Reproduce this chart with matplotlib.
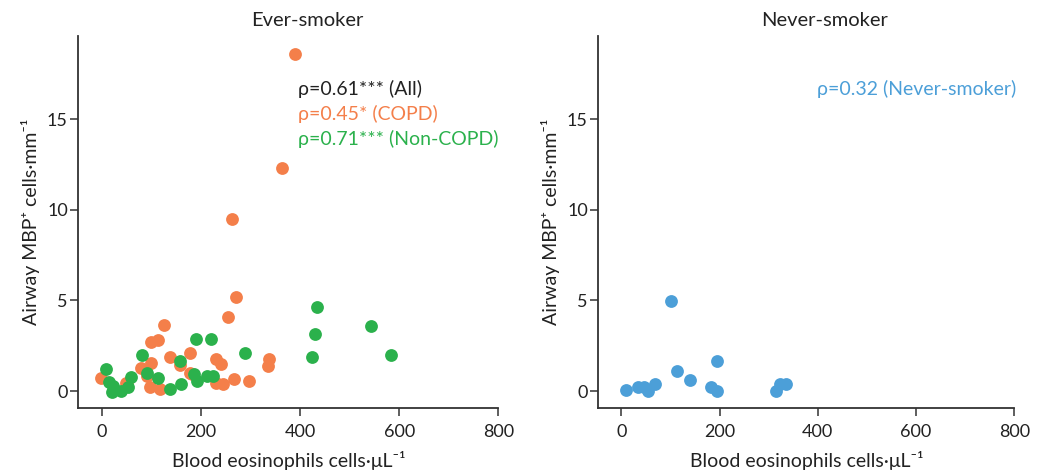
import matplotlib
matplotlib.use('Agg')
import matplotlib.pyplot as plt
import numpy as np

plt.rcParams['font.family'] = ['Lato', 'DejaVu Sans']
plt.rcParams['font.size'] = 12.5

# ever-smoker, COPD (orange)
copd_x = [390, 364, 262, 271, 254, 126, 99, 113, -1, 138, 79, 99, 91, 52, 97, 117,
          178, 158, 178, 230, 240, 338, 335, 267, 298, 230, 245, 50, 183]
copd_y = [18.6, 12.3, 9.5, 5.2, 4.07, 3.65, 2.71, 2.8, 0.74, 1.9, 1.29, 1.53, 0.83, 0.39, 0.24, 0.13,
          2.09, 1.44, 0.98, 1.75, 1.48, 1.77, 1.38, 0.66, 0.57, 0.46, 0.39, 0.46, 0.94]

# ever-smoker, non-COPD (green)
noncopd_x = [8, 81, 15, 23, 21, 39, 54, 60, 91, 113, 138, 161, 158, 191, 220, 290,
             186, 212, 225, 193, 435, 431, 425, 543, 583]
noncopd_y = [1.2, 2.0, 0.51, 0.28, -0.04, 0.0, 0.2, 0.79, 0.98, 0.74, 0.11, 0.39, 1.66, 2.9, 2.88, 2.09,
             0.94, 0.83, 0.83, 0.57, 4.63, 3.15, 1.9, 3.6, 1.99]

# never-smoker (blue)
never_x = [10, 33, 46, 55, 69, 100, 113, 139, 182, 195, 195, 314, 322, 336]
never_y = [0.06, 0.24, 0.24, 0.02, 0.39, 4.98, 1.11, 0.61, 0.24, 0.02, 1.66, 0.02, 0.39, 0.39]

c_orange = '#F47F4A'
c_green = '#2BB14C'
c_blue = '#4C9FD8'
c_axis = '#333333'

xticks = [0, 200, 400, 600, 800]
yticks = [0, 5, 10, 15]

fig = plt.figure(figsize=(10.48, 4.72), dpi=100)
ax1 = fig.add_axes([0.0747, 0.1362, 0.4008, 0.7875])
ax2 = fig.add_axes([0.5709, 0.1362, 0.397, 0.7875])

ax1.scatter(copd_x, copd_y, s=85, color=c_orange, linewidths=0, zorder=3)
ax1.scatter(noncopd_x, noncopd_y, s=85, color=c_green, linewidths=0, zorder=4)
ax2.scatter(never_x, never_y, s=85, color=c_blue, linewidths=0, zorder=3)

for ax, title in [(ax1, 'Ever-smoker'), (ax2, 'Never-smoker')]:
    ax.set_xlim(-47, 800)
    ax.set_ylim(-0.92, 19.6)
    ax.set_xticks(xticks)
    ax.set_yticks(yticks)
    for s in ['top', 'right']:
        ax.spines[s].set_visible(False)
    for s in ['left', 'bottom']:
        ax.spines[s].set_linewidth(1.3)
        ax.spines[s].set_color(c_axis)
    ax.tick_params(axis='both', length=5.5, width=1.1, color=c_axis, labelcolor='#222222',
                   labelsize=13)
    ax.tick_params(axis='x', pad=6)
    ax.tick_params(axis='y', pad=2)
    ax.set_title(title, x=0.545, pad=7, color='#222222', fontsize=14.5)
    ax.set_xlabel('Blood eosinophils cells\u00b7\u03bcL\u207b\u00b9', color='#222222',
                  labelpad=8, fontsize=14)
    ax.set_ylabel('Airway MBP\u207a cells\u00b7mm\u207b\u00b9', color='#222222',
                  labelpad=5, fontsize=14)

ax1.text(0.522, 0.857, '\u03c1=0.61*** (All)', transform=ax1.transAxes, color='#222222',
         va='center', fontsize=14)
ax1.text(0.522, 0.790, '\u03c1=0.45* (COPD)', transform=ax1.transAxes, color=c_orange,
         va='center', fontsize=14)
ax1.text(0.522, 0.723, '\u03c1=0.71*** (Non-COPD)', transform=ax1.transAxes, color=c_green,
         va='center', fontsize=14)
ax2.text(0.526, 0.857, '\u03c1=0.32 (Never-smoker)', transform=ax2.transAxes, color=c_blue,
         va='center', fontsize=14)

fig.savefig('out.png', dpi=100)
